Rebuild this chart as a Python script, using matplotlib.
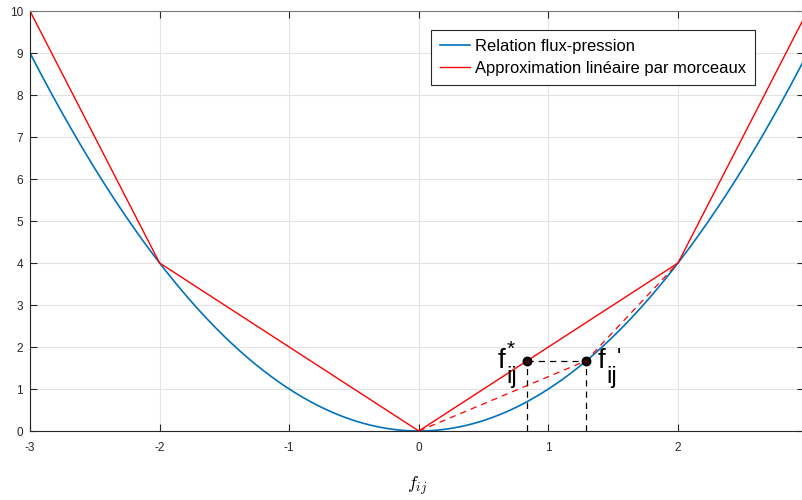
import numpy as np
import matplotlib
matplotlib.use('Agg')
import matplotlib.pyplot as plt

plt.rcParams['font.family'] = ['Liberation Sans', 'DejaVu Sans']
plt.rcParams['axes.unicode_minus'] = False

# courbe flux-pression
x_curve = np.linspace(-3, 3, 601)
y_curve = x_curve ** 2

# approximation lineaire par morceaux
x_pw = [-3, -2, 0, 2, 3]
y_pw = [10, 4, 0, 4, 10]

# points annotes
f_star = (0.835, 1.67)
f_prime = (1.29, 1.67)
x_ticks = [-3, -2, -1, 0, 1, 2]
y_ticks = list(range(0, 11))

blue = '#0072BD'
axcol = '#262626'

fig = plt.figure(figsize=(8.03, 5.00), dpi=100)
ax = fig.add_axes([30 / 803, 69 / 500, 773.7 / 803, 420 / 500])

ax.plot(x_curve, y_curve, color=blue, lw=1.2, label='Relation flux-pression')
ax.plot(x_pw, y_pw, color='#ff0000', lw=1.0, label='Approximation linéaire par morceaux')

# secantes en pointilles rouges
ax.plot([0, f_prime[0], 2], [0, f_prime[1], 4], color='#ff0000', ls=(0, (5, 4)), lw=0.9)
# reperes en pointilles noirs
ax.plot([f_star[0], f_prime[0]], [f_star[1], f_prime[1]], color='k', ls=(0, (5, 4)), lw=0.9)
ax.plot([f_star[0], f_star[0]], [0, f_star[1]], color='k', ls=(0, (5, 4)), lw=0.9)
ax.plot([f_prime[0], f_prime[0]], [0, f_prime[1]], color='k', ls=(0, (5, 4)), lw=0.9)
ax.plot([f_star[0], f_prime[0]], [f_star[1], f_prime[1]], ls='none', marker='o',
        ms=5.5, mfc='#3a0a0a', mec='k', mew=1.6)


def lab(pt, txt, dx, dy, size, va='baseline'):
    ax.annotate(txt, xy=pt, xytext=(dx, dy), textcoords='offset points',
                fontsize=size, ha='left', va=va, color='k')


# f_ij^*
lab(f_star, 'f', -21.2, -5.3, 20)
lab(f_star, 'ij', -15.2, -16.0, 17)
lab(f_star, '*', -14.5, 15.5, 15, va='top')
# f_ij'
lab(f_prime, 'f', 8.2, -5.3, 20)
lab(f_prime, 'ij', 14.8, -16.0, 17)
lab(f_prime, "'", 22.5, 10.0, 16, va='top')

ax.set_xlim(-3, 2.97)
ax.set_ylim(0, 10)
ax.set_xticks(x_ticks)
ax.set_yticks(y_ticks)
ax.grid(True, color='#e3e3e3', lw=0.8)
ax.set_axisbelow(True)
ax.tick_params(direction='in', length=5, width=0.8, colors=axcol, labelsize=8.5,
               top=True, right=True)
ax.tick_params(axis='x', pad=8)
ax.tick_params(axis='y', pad=5)
for s in ax.spines.values():
    s.set_color(axcol)
    s.set_linewidth(0.8)
ax.spines['top'].set_color('#7a7a7a')
ax.spines['right'].set_color('#7a7a7a')

ax.set_xlabel(r'$f_{ij}$', fontsize=13, labelpad=15, math_fontfamily='cm')

leg = ax.legend(loc='upper right', bbox_to_anchor=(0.937, 0.955),
                fontsize=11.9, handlelength=1.8, borderpad=0.55, labelspacing=0.4,
                handletextpad=0.3, borderaxespad=0, fancybox=False, framealpha=1,
                edgecolor=axcol)
leg.get_frame().set_linewidth(0.8)

fig.savefig('out.png', dpi=100)
